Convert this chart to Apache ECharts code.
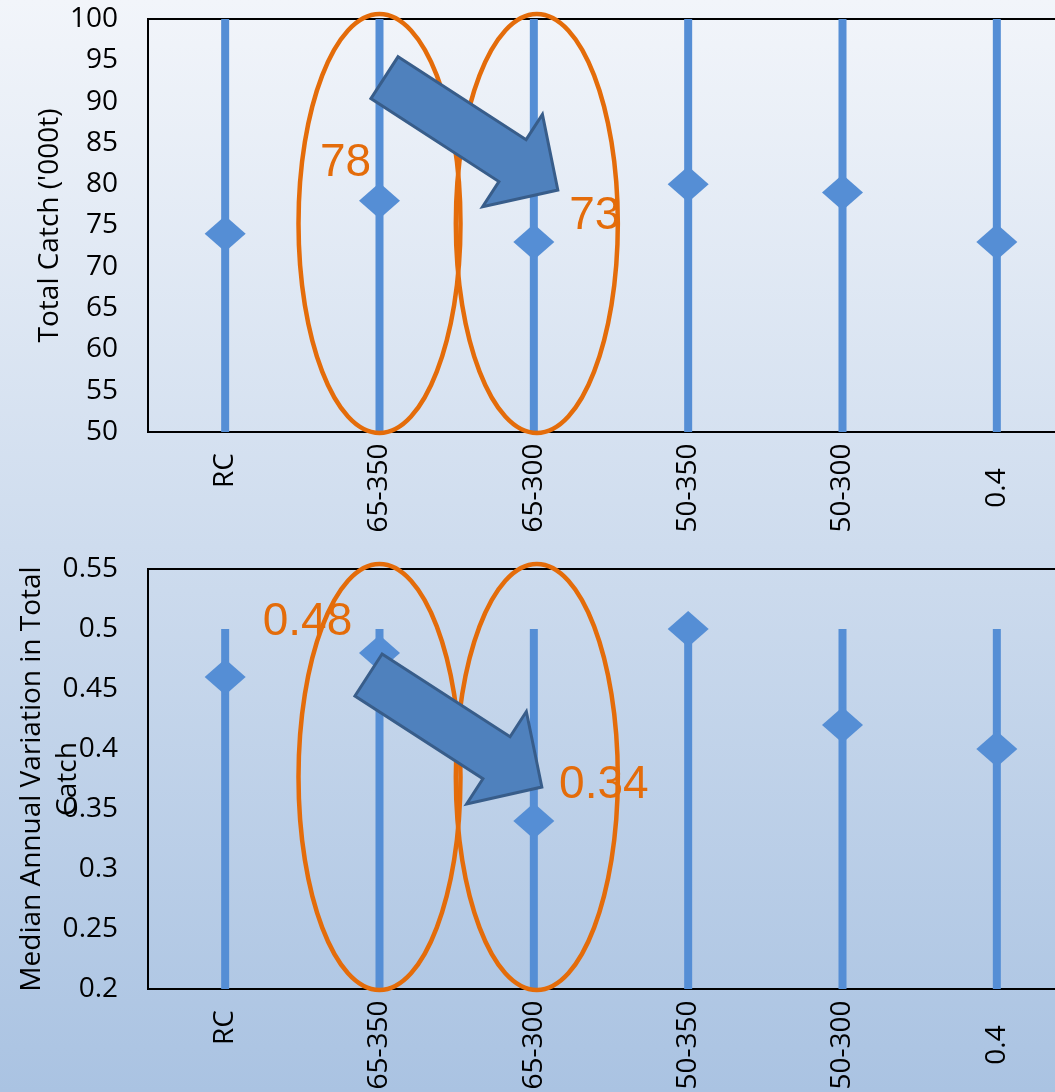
<!DOCTYPE html>
<html><head><meta charset="utf-8">
<script src="https://cdn.jsdelivr.net/npm/echarts@6/dist/echarts.min.js"></script>
<style>html,body{margin:0;padding:0;overflow:hidden;}#c{width:1055px;height:1092px;}</style>
</head><body><div id="c"></div>
<script>
// ---- data ----
const categories = ['RC', '65-350', '65-300', '50-350', '50-300', '0.4'];
const catchValues = [74, 78, 73, 80, 79, 73];
const catchLow = [50, 50, 50, 50, 50, 50];
const catchHigh = [100, 100, 100, 100, 100, 100];
const aavValues = [0.46, 0.48, 0.34, 0.50, 0.42, 0.40];
const aavLow = [0.2, 0.2, 0.2, 0.2, 0.2, 0.2];
const aavHigh = [0.5, 0.5, 0.5, 0.5, 0.5, 0.5];
const catchAxis = { min: 50, max: 100, interval: 5 };
const aavAxis = { min: 0.2, max: 0.55, interval: 0.05 };
const highlighted = [1, 2];

// ---- style ----
const BLUE = '#558ED5', ORANGE = '#E46C0A';
const FONT = 'Open Sans';

const chart = echarts.init(document.getElementById('c'), null, { renderer: 'canvas' });

function rangeData(low, high) { return categories.map((c, i) => [i, low[i], high[i]]); }
function rangeRender(params, api) {
  const a = api.coord([api.value(0), api.value(1)]);
  const b = api.coord([api.value(0), api.value(2)]);
  return { type: 'line', shape: { x1: a[0], y1: a[1], x2: b[0], y2: b[1] },
    style: { stroke: BLUE, lineWidth: 8, lineCap: 'butt' } };
}
function xAxis(gi) {
  return {
    type: 'category', gridIndex: gi,
    data: categories.map((c, i) => i === 0 ? { value: c, textStyle: { align: 'left' } } : c),
    axisLine: { show: false }, axisTick: { show: false }, splitLine: { show: false },
    axisLabel: { rotate: 90, align: 'center', verticalAlign: 'middle', margin: 56, fontSize: 28, color: '#000', fontFamily: FONT, interval: 0 }
  };
}
function yAxis(gi, ax, name, gap) {
  return {
    type: 'value', gridIndex: gi, min: ax.min, max: ax.max, interval: ax.interval,
    name: name, nameLocation: 'middle', nameGap: gap, nameMoveOverlap: false,
    nameTextStyle: { fontSize: 28, color: '#000', fontFamily: FONT, lineHeight: 36 },
    axisLine: { show: false }, axisTick: { show: false }, splitLine: { show: false },
    axisLabel: { fontSize: 28, color: '#000', fontFamily: FONT, margin: 30 }
  };
}

const option = {
  animation: false,
  backgroundColor: { type: 'linear', x: 0, y: 0, x2: 0, y2: 1,
    colorStops: [{ offset: 0, color: '#f2f5fa' }, { offset: 1, color: '#aac3e2' }] },
  grid: [
    { left: 148, top: 19, width: 926, height: 413, containLabel: false, outerBoundsMode: 'none', show: true, borderColor: '#000', borderWidth: 2, backgroundColor: 'transparent' },
    { left: 148, top: 569, width: 926, height: 420, containLabel: false, outerBoundsMode: 'none', show: true, borderColor: '#000', borderWidth: 2, backgroundColor: 'transparent' }
  ],
  xAxis: [xAxis(0), xAxis(1)],
  yAxis: [
    yAxis(0, catchAxis, "Total Catch ('000t)", 80),
    yAxis(1, aavAxis, 'Median Annual Variation in Total\nCatch', 62)
  ],
  series: [
    { type: 'custom', xAxisIndex: 0, yAxisIndex: 0, data: rangeData(catchLow, catchHigh), renderItem: rangeRender, clip: true },
    { type: 'scatter', xAxisIndex: 0, yAxisIndex: 0, data: catchValues, symbol: 'diamond', symbolSize: [41, 36], itemStyle: { color: BLUE, opacity: 1 } },
    { type: 'custom', xAxisIndex: 1, yAxisIndex: 1, data: rangeData(aavLow, aavHigh), renderItem: rangeRender, clip: true },
    { type: 'scatter', xAxisIndex: 1, yAxisIndex: 1, data: aavValues, symbol: 'diamond', symbolSize: [41, 36], itemStyle: { color: BLUE, opacity: 1 } }
  ]
};
chart.setOption(option);

// ---- annotations anchored to the axes ----
function px(gi, ci, v) { return chart.convertToPixel({ seriesIndex: gi === 0 ? 1 : 3 }, [ci, v]); }
function blockArrow(tail, tip, shaftW, headW, headL) {
  const dx = tip[0] - tail[0], dy = tip[1] - tail[1];
  const L = Math.hypot(dx, dy), ux = dx / L, uy = dy / L, nx = -uy, ny = ux;
  const bx = tip[0] - ux * headL, by = tip[1] - uy * headL;
  const p = (x, y, s) => [x + nx * s, y + ny * s];
  return [p(tail[0], tail[1], -shaftW / 2), p(bx, by, -shaftW / 2), p(bx, by, -headW / 2), tip,
          p(bx, by, headW / 2), p(bx, by, shaftW / 2), p(tail[0], tail[1], shaftW / 2)];
}
const graphics = [];
const panels = [
  { gi: 0, ax: catchAxis, vals: catchValues, fmt: v => String(v),
    arrow: { tail: [5, 92.9], tip: [24, 79.3] }, labelOff: [[-34, -40], [61, -29]] },
  { gi: 1, ax: aavAxis, vals: aavValues, fmt: v => v.toFixed(2),
    arrow: { tail: [-11, 0.4617], tip: [8, 0.3683] }, labelOff: [[-72, -34], [70, -39]] }
];
panels.forEach(P => {
  const topY = px(P.gi, 0, P.ax.max)[1], botY = px(P.gi, 0, P.ax.min)[1];
  highlighted.forEach((ci, k) => {
    const cx = px(P.gi, ci, P.ax.min)[0] + (k === 0 ? 0 : 3);
    const t = topY - 5, b = botY + 1;
    graphics.push({ type: 'ellipse', z: 100, shape: { cx: cx, cy: (t + b) / 2, rx: 81, ry: (b - t) / 2 },
      style: { fill: 'none', stroke: ORANGE, lineWidth: 4.5 } });
  });
  const c1 = px(P.gi, highlighted[0], P.arrow.tail[1]);
  const c2 = px(P.gi, highlighted[1], P.arrow.tip[1]);
  const tail = [c1[0] + P.arrow.tail[0], c1[1]];
  const tip = [c2[0] + P.arrow.tip[0], c2[1]];
  graphics.push({ type: 'polygon', z: 101, shape: { points: blockArrow(tail, tip, 50, 110, 54) },
    style: { fill: '#4F81BD', stroke: '#385D8A', lineWidth: 3, lineJoin: 'miter' } });
  highlighted.forEach((ci, k) => {
    const p = px(P.gi, ci, P.vals[ci]);
    graphics.push({ type: 'text', z: 102, x: p[0] + P.labelOff[k][0], y: p[1] + P.labelOff[k][1] + 3,
      style: { text: P.fmt(P.vals[ci]), fontSize: 46, fontFamily: 'Liberation Sans', fill: ORANGE,
        align: 'center', verticalAlign: 'middle', textAlign: 'center', textVerticalAlign: 'middle' } });
  });
});
chart.setOption({ graphic: graphics });
</script>
</body></html>
